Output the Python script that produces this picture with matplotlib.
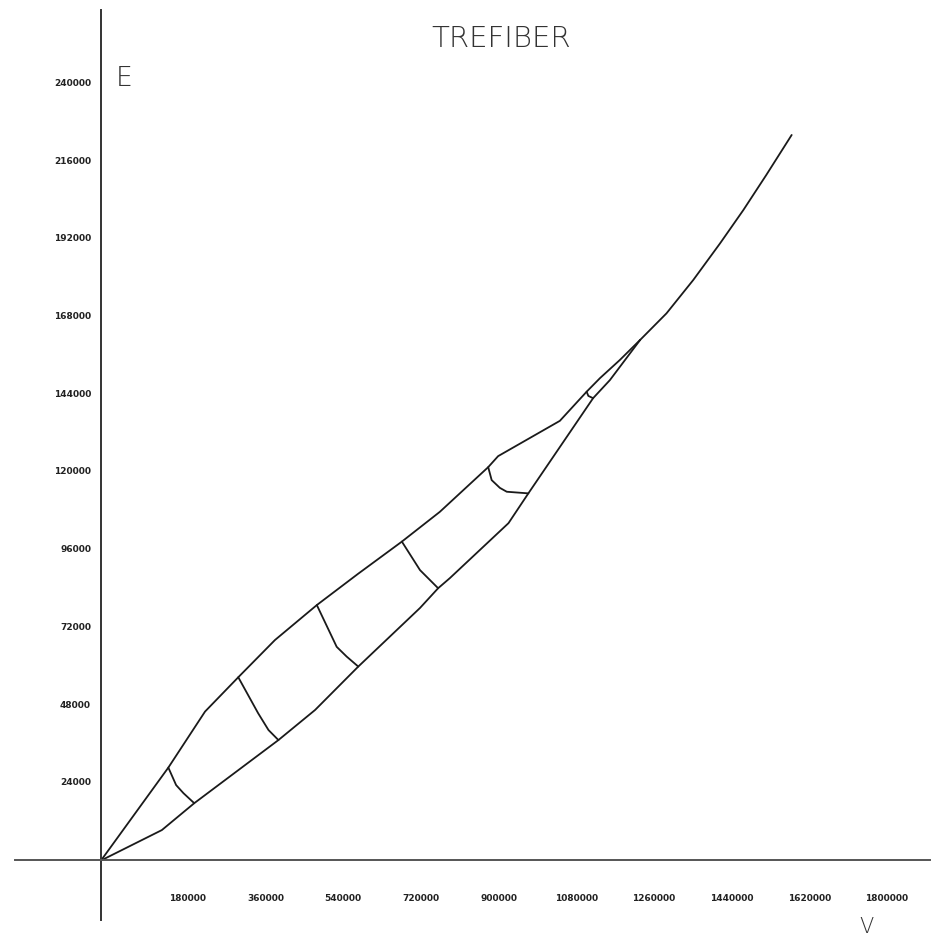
import numpy as np
import matplotlib
matplotlib.use("Agg")
import matplotlib.pyplot as plt
from matplotlib.transforms import offset_copy

# Tick values
x_ticks = [180000, 360000, 540000, 720000, 900000, 1080000, 1260000, 1440000, 1620000, 1800000]
y_ticks = [24000, 48000, 72000, 96000, 120000, 144000, 168000, 192000, 216000, 240000]

# Upper branch of the lens (V, E)
upper_v = [0, 156000, 241000, 318000, 403000, 500000, 595000, 697000, 785000, 897000,
           920000, 1063000, 1125000, 1156000, 1202000, 1249000]
upper_e = [0, 28700, 46000, 56600, 68100, 78900, 88500, 98500, 107700, 121500,
           124900, 135800, 144800, 149000, 154600, 160800]

# Lower branch of the lens
lower_v = [0, 141000, 216000, 411000, 496000, 596000, 739000, 781000, 808000, 944000,
           990000, 1140000, 1179000, 1249000]
lower_e = [0, 9400, 17700, 37200, 46500, 59900, 78000, 84100, 87200, 104200,
           113400, 142800, 148400, 160800]

# Single curve after the branches meet
top_v = [1249000, 1310000, 1372000, 1434000, 1488000, 1541000, 1600000]
top_e = [160800, 169000, 179300, 190600, 200900, 211700, 224100]

# Cross lines joining upper and lower branches
cross_v = [
    [156000, 174000, 191000, 216000],
    [318000, 364000, 388000, 411000],
    [500000, 546000, 569000, 596000],
    [697000, 739000, 781000],
    [897000, 905000, 924000, 940000, 990000],
    [1125000, 1129000, 1140000],
]
cross_e = [
    [28700, 23300, 20800, 17700],
    [56600, 45500, 40300, 37200],
    [78900, 66000, 63000, 59900],
    [98500, 89700, 84100],
    [121500, 117500, 115100, 113900, 113400],
    [144800, 143500, 142800],
]

fig = plt.figure(figsize=(9.4, 9.4), dpi=100)
ax = fig.add_axes([0, 0, 1, 1])
ax.set_xlim(-233977, 1943627)
ax.set_ylim(-24556, 265790)
ax.axis("off")

line_kw = dict(color="#1a1a1a", lw=1.3, solid_capstyle="round", solid_joinstyle="round")
ax.plot(upper_v, upper_e, **line_kw)
ax.plot(lower_v, lower_e, **line_kw)
ax.plot(top_v, top_e, **line_kw)
for cv, ce in zip(cross_v, cross_e):
    ax.plot(cv, ce, **line_kw)

# axes lines
ax.axvline(0, ymin=20 / 940, ymax=930 / 940, color="#333333", lw=1.4)
ax.axhline(0, xmin=15 / 940, xmax=930 / 940, color="#555555", lw=1.4)

# tick labels
tx = offset_copy(ax.transData, fig=fig, x=9, y=-38, units="dots")
for v in x_ticks:
    ax.text(v, 0, str(v), transform=tx, ha="center", va="center",
            fontsize=6.5, fontweight="bold", color="#222222")
ty = offset_copy(ax.transData, fig=fig, x=-10, y=0, units="dots")
for v in y_ticks:
    ax.text(0, v, str(v), transform=ty, ha="right", va="center",
            fontsize=6.5, fontweight="bold", color="#222222")

ax.text(0.5335, 0.958, "TREFIBER", transform=ax.transAxes, ha="center", va="center",
        fontsize=21, fontweight="light", color="#333333")
ax.text(0.1324, 0.9165, "E", transform=ax.transAxes, ha="center", va="center",
        fontsize=19, fontweight="light", color="#333333")
ax.text(0.9213, 0.0135, "V", transform=ax.transAxes, ha="center", va="center",
        fontsize=15, fontweight="light", color="#333333")

fig.savefig("out.png", dpi=100, facecolor="white")
